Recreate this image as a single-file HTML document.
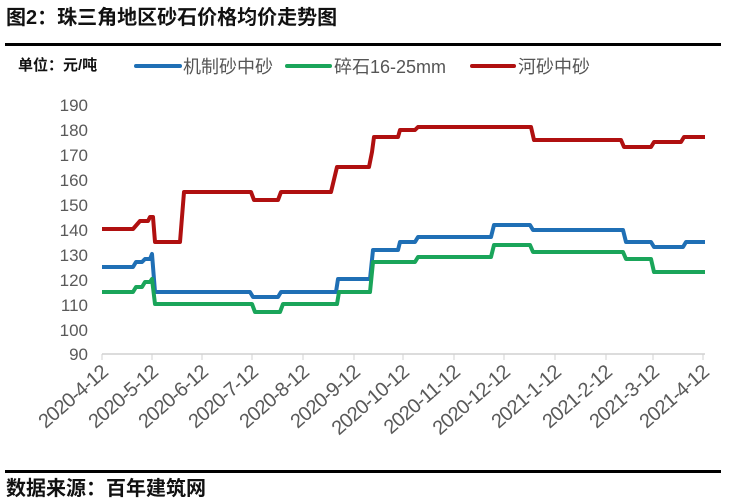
<!DOCTYPE html>
<html><head><meta charset="utf-8"><style>
body{margin:0;background:#fff;width:732px;height:502px;overflow:hidden}
svg{display:block}
</style></head><body>
<svg width="732" height="502" xmlns="http://www.w3.org/2000/svg" font-family="Liberation Sans, Noto Sans CJK SC, sans-serif">
<text x="6" y="24" font-size="20" font-weight="bold" fill="#111">图2：珠三角地区砂石价格均价走势图</text>
<rect x="5" y="43" width="716" height="3" fill="#000"/>
<text x="18" y="70" font-size="15" font-weight="bold" fill="#111">单位：元/吨</text>
<line x1="136" y1="66" x2="180" y2="66" stroke="#1f6fb5" stroke-width="4" stroke-linecap="round"/>
<text x="183" y="73" font-size="18" fill="#555">机制砂中砂</text>
<line x1="287" y1="66" x2="330" y2="66" stroke="#1aa55a" stroke-width="4" stroke-linecap="round"/>
<text x="334" y="73" font-size="18" fill="#555">碎石16-25mm</text>
<line x1="472" y1="66" x2="514" y2="66" stroke="#b01010" stroke-width="4" stroke-linecap="round"/>
<text x="518" y="73" font-size="18" fill="#555">河砂中砂</text>
<g font-size="17" fill="#595959" text-anchor="end">
<text x="88" y="111">190</text><text x="88" y="136">180</text><text x="88" y="161">170</text><text x="88" y="186">160</text><text x="88" y="211">150</text><text x="88" y="236">140</text><text x="88" y="261">130</text><text x="88" y="286">120</text><text x="88" y="311">110</text><text x="88" y="336">100</text><text x="88" y="360">90</text>
</g>
<line x1="102" y1="354" x2="705" y2="354" stroke="#d0d0d0" stroke-width="1.5"/>
<g stroke="#d0d0d0" stroke-width="1">
<line x1="102" y1="354" x2="102" y2="360"/><line x1="152" y1="354" x2="152" y2="360"/><line x1="202" y1="354" x2="202" y2="360"/><line x1="252" y1="354" x2="252" y2="360"/><line x1="303" y1="354" x2="303" y2="360"/><line x1="354" y1="354" x2="354" y2="360"/><line x1="403" y1="354" x2="403" y2="360"/><line x1="454" y1="354" x2="454" y2="360"/><line x1="504" y1="354" x2="504" y2="360"/><line x1="555" y1="354" x2="555" y2="360"/><line x1="606" y1="354" x2="606" y2="360"/><line x1="653" y1="354" x2="653" y2="360"/><line x1="703" y1="354" x2="703" y2="360"/>
</g>
<g font-size="20" fill="#595959" text-anchor="end" letter-spacing="-0.8">
<text transform="translate(109,374) rotate(-41)">2020-4-12</text>
<text transform="translate(159,374) rotate(-41)">2020-5-12</text>
<text transform="translate(209,374) rotate(-41)">2020-6-12</text>
<text transform="translate(259,374) rotate(-41)">2020-7-12</text>
<text transform="translate(310,374) rotate(-41)">2020-8-12</text>
<text transform="translate(361,374) rotate(-41)">2020-9-12</text>
<text transform="translate(410,374) rotate(-41)">2020-10-12</text>
<text transform="translate(461,374) rotate(-41)">2020-11-12</text>
<text transform="translate(511,374) rotate(-41)">2020-12-12</text>
<text transform="translate(562,374) rotate(-41)">2021-1-12</text>
<text transform="translate(613,374) rotate(-41)">2021-2-12</text>
<text transform="translate(660,374) rotate(-41)">2021-3-12</text>
<text transform="translate(710,374) rotate(-41)">2021-4-12</text>
</g>
<g fill="none" stroke-width="4" stroke-linejoin="round">
<polyline stroke="#b01010" points="102,229 133,229 140,221 148,221 150,217 153,217 155,242 180,242 184,192 251,192 254,200 278,200 281,192 331,192 337,167 369,167 372,152 374,137 398,137 400,130 415,130 418,127 531,127 534,140 621,140 624,147 651,147 654,142 681,142 684,137 705,137"/>
<polyline stroke="#1f6fb5" points="102,267 133,267 136,262 142,262 145,259 150,259 152,254 155,292 250,292 253,297 278,297 281,292 336,292 338,279 370,279 373,250 398,250 400,242 415,242 418,237 491,237 494,225 530,225 533,230 623,230 626,242 651,242 654,247 683,247 686,242 705,242"/>
<polyline stroke="#1aa55a" points="102,292 133,292 136,287 142,287 145,282 150,282 152,279 155,304 252,304 255,312 280,312 283,304 337,304 339,292 370,292 373,262 415,262 418,257 491,257 494,245 530,245 533,252 623,252 626,259 651,259 654,272 705,272"/>
</g>
<rect x="5" y="470" width="716" height="3" fill="#000"/>
<text x="6" y="495" font-size="20" font-weight="bold" fill="#111">数据来源：百年建筑网</text>
</svg>
</body></html>
